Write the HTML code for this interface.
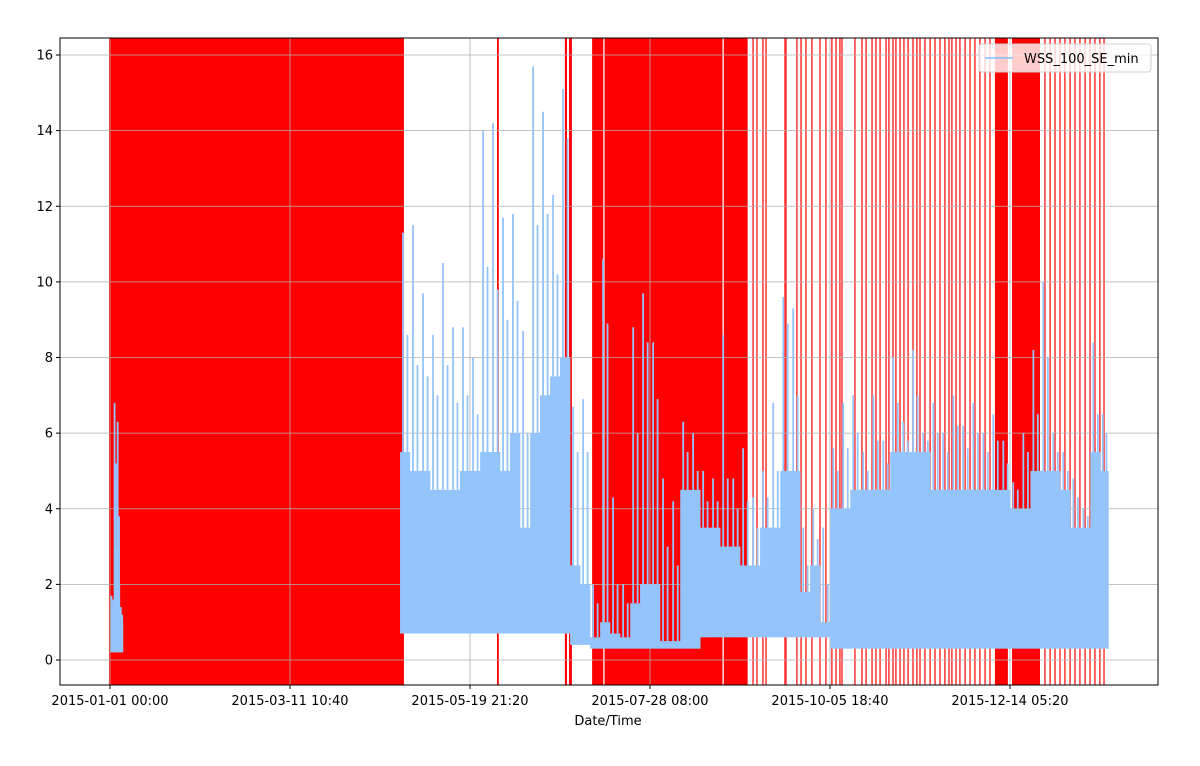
<!DOCTYPE html>
<html><head><meta charset="utf-8"><style>
body{margin:0;background:#fff;font-family:"Liberation Sans","DejaVu Sans",sans-serif}
svg text{font-family:"DejaVu Sans","Liberation Sans",sans-serif;font-size:13px;fill:#000}
</style></head><body>
<svg id="chart" width="1200" height="761">
<g id="red"></g>
<g id="grid"></g>
<g id="blue"></g>
<g id="axes"></g>
</svg>
<script>
// data (x in days since 2015-01-01 00:00, y in m/s)
const xTickDays=[0,69.444,138.889,208.333,277.778,347.222];
const xTickLabels=["2015-01-01 00:00","2015-03-11 10:40","2015-05-19 21:20","2015-07-28 08:00","2015-10-05 18:40","2015-12-14 05:20"];
const yTicks=[0,2,4,6,8,10,12,14,16];
const redSpans=[[-0.4,113.4],[149.3,150.0],[175.5,176.3],[177.1,178.2],[186,190.3],[190.8,236.3],[236.8,246],[341.4,346.4],[348,358.8]];
const redLines=[248.1,249.6,251.9,253.1,260.4,260.8,265.0,266.6,268.5,270.8,273.9,276.2,278.5,280.1,281.6,282.4,287.4,290.1,291.7,294.0,295.5,297.1,299.4,300.5,302.1,303.2,304.8,306.3,307.9,309.8,311.3,312.5,314.4,316.4,318.3,320.2,322.1,323.7,324.8,326.4,327.9,329.9,331.8,333.7,335.6,337.6,339.5,360.7,362.7,364.6,366.5,368.4,370.4,372.3,374.2,376.2,378.1,380.0,381.9,383.5];
const startDays=[0.2,1.4,2.6,3.8];
const startBody=[1.5,3,2,1];
const startPeak=[1.7,6.8,6.3,1.4];
const startPeak2=[1.6,5.2,3.8,1.2];
const startLow=[0.2,0.2,0.2,0.2];
const binDays=[111.9,115.7,119.6,123.5,127.3,131.2,135.0,138.9,142.8,146.6,150.5,154.3,158.2,162.1,165.9,169.8,173.6,177.5,181.4,185.2,189.1,192.9,196.8,200.7,204.5,208.4,212.2,216.1,220.0,223.8,227.7,231.5,235.4,239.3,243.1,247.0,250.8,254.7,258.6,262.4,266.3,270.1,274.0,277.9,281.7,285.6,289.4,293.3,297.2,301.0,304.9,308.7,312.6,316.5,320.3,324.2,328.0,331.9,335.8,339.6,343.5,347.3,351.2,355.1,358.9,362.8,366.6,370.5,374.4,378.2,382.1,385.2];
const binBody=[5.5,5,5,4.5,4.5,4.5,5,5,5.5,5.5,5,6,3.5,6,7,7.5,8,2.5,2,0.6,1,0.7,0.6,1.5,2,2,0.5,0.5,4.5,4.5,3.5,3.5,3,3,2.5,2.5,3.5,3.5,5,5,1.8,2.5,1.0,4,4,4.5,4.5,4.5,4.5,5.5,5.5,5.5,5.5,4.5,4.5,4.5,4.5,4.5,4.5,4.5,4.5,4,4,5,5,5,4.5,3.5,3.5,5.5,5];
const binPeak=[11.3,11.5,9.7,8.6,10.5,8.8,8.8,8.0,14.0,14.2,11.7,11.8,8.7,15.7,14.5,12.3,15.1,6.7,6.9,2.0,10.6,4.3,2.0,8.8,9.7,8.4,4.8,4.2,6.3,6.0,5.0,4.8,8.6,4.8,5.6,4.3,5.0,6.8,9.6,9.3,3.5,4.0,3.5,5.6,6.8,7.0,5.5,7.0,5.8,8.0,6.3,8.2,6.0,6.8,6.0,7.0,6.2,6.8,6.0,6.5,5.8,4.7,6.0,8.2,10.0,6.0,5.5,4.8,4.0,8.4,6.5];
const binPeak2=[8.6,7.8,7.5,7.0,7.8,6.8,7.0,6.5,10.4,9.8,9.0,9.5,6.0,11.5,11.8,10.2,13.8,5.5,5.5,1.5,8.9,2.0,1.5,6.0,8.4,6.9,3.0,2.5,5.5,5.0,4.2,4.2,4.8,4.0,4.2,3.5,4.3,5.0,8.9,7.0,2.5,3.2,2.0,5.0,5.6,6.0,5.0,5.8,5.2,6.8,5.8,7.0,5.8,6.0,5.5,6.2,5.6,6.0,5.5,5.8,5.2,4.5,5.5,6.5,8.0,5.5,5.0,4.3,3.8,6.5,6.0];
const binLow=[0.7,0.7,0.7,0.7,0.7,0.7,0.7,0.7,0.7,0.7,0.7,0.7,0.7,0.7,0.7,0.7,0.7,0.4,0.4,0.3,0.3,0.3,0.3,0.3,0.3,0.3,0.3,0.3,0.3,0.3,0.6,0.6,0.6,0.6,0.6,0.6,0.6,0.6,0.6,0.6,0.6,0.6,0.6,0.3,0.3,0.3,0.3,0.3,0.3,0.3,0.3,0.3,0.3,0.3,0.3,0.3,0.3,0.3,0.3,0.3,0.3,0.3,0.3,0.3,0.3,0.3,0.3,0.3,0.3,0.3,0.3];

const L=60,R=1158,T=38,B=685;
const X=d=>110+d*2.592;
const Y=v=>660-v*37.8125;
const NS="http://www.w3.org/2000/svg";
function mk(tag,parent,attrs){const e=document.createElementNS(NS,tag);for(const k in attrs)e.setAttribute(k,attrs[k]);parent.appendChild(e);return e;}
const red=document.getElementById('red'),grid=document.getElementById('grid'),blue=document.getElementById('blue'),axes=document.getElementById('axes');
const clip=mk('clipPath',document.getElementById('chart'),{id:'pc'});mk('rect',clip,{x:L,y:T,width:R-L,height:B-T});
red.setAttribute('clip-path','url(#pc)');
redSpans.forEach(s=>{const r=mk('rect',red,{x:X(s[0]),y:T,width:X(s[1])-X(s[0]),height:B-T,fill:'#ff0000'});

});
redLines.forEach(d=>{const r=mk('rect',red,{x:X(d)-0.8,y:T,width:1.6,height:B-T,fill:'#ff2020',opacity:0.85});

});
yTicks.forEach(v=>{const l=mk('line',grid,{x1:L,x2:R,y1:Y(v),y2:Y(v),stroke:'#b0b0b0','stroke-width':0.8});

});
xTickDays.forEach(d=>{const l=mk('line',grid,{x1:X(d),x2:X(d),y1:T,y2:B,stroke:'#b0b0b0','stroke-width':0.8});

});
function drawBins(days,body,peak,peak2,low,endDay){
 const n=Math.min(body.length,peak.length,peak2.length,low.length);
 for(let i=0;i<n;i++){
  const x0=X(days[i]),x1=X(i+1<days.length?days[i+1]:endDay);
  const r=mk('rect',blue,{x:x0,y:Y(body[i]),width:x1-x0+0.3,height:Y(low[i])-Y(body[i]),fill:'#93c4fb'});
  
  
  const xa=x0+(x1-x0)*0.3,xb=x0+(x1-x0)*0.75;
  const l=mk('line',blue,{x1:xa,x2:xa,y1:Y(peak[i]),y2:Y(body[i]),stroke:'#93c4fb','stroke-width':1.8});
  
  
  const l2=mk('line',blue,{x1:xb,x2:xb,y1:Y(peak2[i]),y2:Y(body[i]),stroke:'#93c4fb','stroke-width':1.8});
  
  
 }
}
drawBins(startDays,startBody,startPeak,startPeak2,startLow,5);
drawBins(binDays,binBody,binPeak,binPeak2,binLow,385.2);
mk('rect',axes,{x:L,y:T,width:R-L,height:B-T,fill:'none',stroke:'#000','stroke-width':1});
yTicks.forEach(v=>{mk('line',axes,{x1:L-4,x2:L,y1:Y(v),y2:Y(v),stroke:'#000'});
const t=mk('text',axes,{x:L-7,y:Y(v)+4.5,'text-anchor':'end'});t.textContent=v;

});
xTickDays.forEach((d,i)=>{mk('line',axes,{x1:X(d),x2:X(d),y1:B,y2:B+4,stroke:'#000'});
const t=mk('text',axes,{x:X(d),y:B+20,'text-anchor':'middle'});t.textContent=xTickLabels[i];

});
const xt=mk('text',axes,{x:608,y:725,'text-anchor':'middle'});xt.textContent='Date/Time';


const lg=mk('g',axes,{});


mk('rect',lg,{x:979,y:44,width:172,height:28,rx:3,fill:'#fff','fill-opacity':0.8,stroke:'#d0d0d0'});
mk('line',lg,{x1:985,x2:1013,y1:58,y2:58,stroke:'#93c4fb','stroke-width':1.8});
const lt=mk('text',lg,{x:1024,y:63});lt.textContent='WSS_100_SE_min';


</script>
</body></html>
